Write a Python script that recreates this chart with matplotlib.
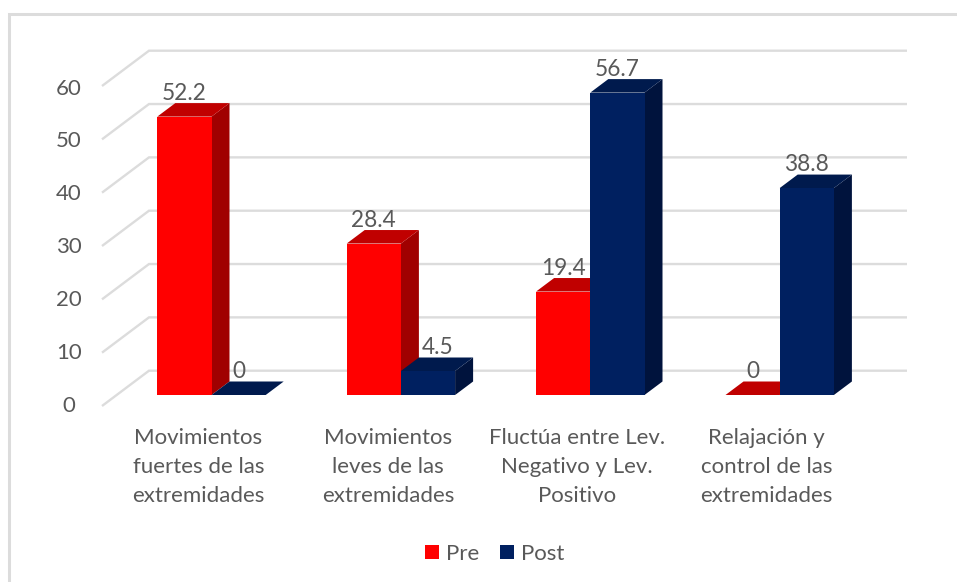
import matplotlib
matplotlib.use("Agg")
import matplotlib.pyplot as plt
from matplotlib.patches import Patch

categories = ["Movimientos\nfuertes de las\nextremidades",
              "Movimientos\nleves de las\nextremidades",
              "Fluctúa entre Lev.\nNegativo y Lev.\nPositivo",
              "Relajación y\ncontrol de las\nextremidades"]
pre = [52.2, 28.4, 19.4, 0]
post = [0, 4.5, 56.7, 38.8]
yticks = [0, 10, 20, 30, 40, 50, 60]

W, H = 957, 582
plt.rcParams['font.family'] = ['Lato', 'DejaVu Sans']
TXT = '#595959'
GRID = '#dcdcdc'
FS = 16.0
fig = plt.figure(figsize=(W/100, H/100), dpi=100, facecolor='white')

# frame of the pasted chart
fig.add_artist(plt.Line2D([8.5/W, 8.5/W, 1], [0, 1-14/H, 1-14/H], color=GRID, lw=2.2, solid_joinstyle='miter'))

PX_X, PX_Y = 189.4, 320/60
ax = fig.add_axes([116.8/W, (H-395)/H, 4*PX_X/W, 320/H])
ax.set_xlim(-0.5, 3.5)
ax.set_ylim(0, 60)
ax.axis('off')

def dx(p):
    return p/PX_X
def dy(p):
    return p/PX_Y

# gridlines on side wall and back wall
xl_front, xl_back, xl_end = dx(102-116.8)-0.5, dx(149-116.8)-0.5, dx(907-116.8)-0.5
for v in yticks:
    ax.plot([xl_front, xl_back, xl_end], [v+dy(-11), v+dy(24.3), v+dy(24.3)],
            color=GRID, lw=1.7, clip_on=False, zorder=1, solid_capstyle='butt', solid_joinstyle='miter')

bw = 54.2/PX_X
DX, DY = dx(18), dy(13.5)
series = [(pre, -bw, '#ff0000', '#c00000', '#a00000'),
          (post, 0, '#002060', '#001a4d', '#00133d')]

z = 3
for i in range(4):
    for vals, off, front, top, side in series:
        v = vals[i]
        x0 = i + off
        x1 = x0 + bw
        ax.fill([x1, x1+DX, x1+DX, x1], [0, DY, v+DY, v], color=side, lw=0, clip_on=False, zorder=z)
        ax.fill([x0, x1, x1+DX, x0+DX], [v, v, v+DY, v+DY], color=top, lw=0, clip_on=False, zorder=z)
        ax.bar(x0, v, bw, align='edge', color=front, lw=0, clip_on=False, zorder=z)
        z += 1

for s, (vals, off, *_) in enumerate(series):
    for i, v in enumerate(vals):
        nudge = dx(10) if (s, i) == (1, 1) else 0
        ax.text(i+off+bw/2+nudge, v+DY+dy(10), f"{v:g}", ha='center', va='center', fontsize=FS+0.3,
                color=TXT, clip_on=False, zorder=50)

for i, c in enumerate(categories):
    ax.text(i+dx(-13), dy(-32.5), c, ha='center', va='top', fontsize=FS, color=TXT,
            linespacing=1.58, clip_on=False)

for v in yticks:
    ax.text(dx(69-116.8)-0.5, dy(395-405.5)+v*52.83/53.33, str(v), ha='center', va='center',
            fontsize=FS, color=TXT, clip_on=False)

handles = [Patch(color='#ff0000', lw=0), Patch(color='#002060', lw=0)]
fig.legend(handles, ['Pre', 'Post'], ncol=2, loc='center', bbox_to_anchor=(494.5/W, 1-554/H),
           frameon=False, fontsize=FS, labelcolor=TXT, handlelength=0.63, handleheight=0.63,
           handletextpad=0.3, columnspacing=0.95)

fig.savefig('out.png', dpi=100, facecolor='white')
